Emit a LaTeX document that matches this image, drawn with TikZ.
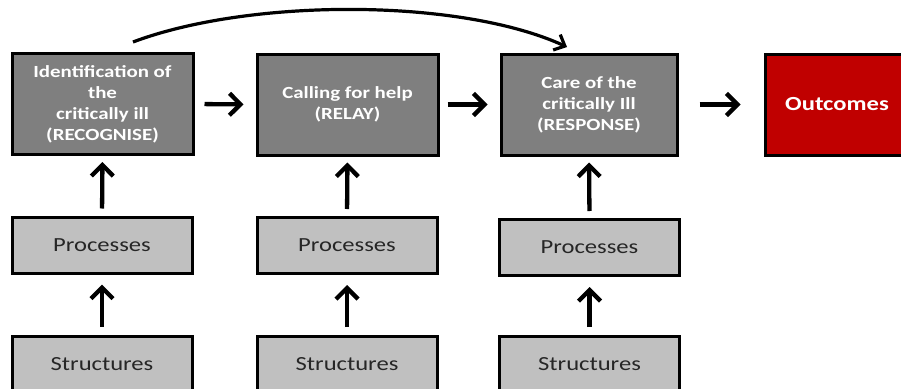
\documentclass[tikz,border=0pt]{standalone}
\usepackage{fontspec}
\setmainfont{Carlito}[FakeStretch=1.23]
\usetikzlibrary{arrows.meta}
\definecolor{darkbox}{HTML}{7F7F7F}
\definecolor{lightbox}{HTML}{C0C0C0}
\definecolor{outred}{HTML}{C00000}
\tikzset{
  topbox/.style={draw=black, line width=3pt, fill=darkbox, minimum height=101pt, inner sep=0pt,
    align=center, text=white, font=\fontsize{17}{21}\selectfont\bfseries},
  redbox/.style={topbox, fill=outred},
  greybox/.style={draw=black, line width=3pt, fill=lightbox, minimum width=180pt, minimum height=56pt,
    inner sep=0pt, text=black!85, font=\fontsize{20}{24}\selectfont},
  arr/.style={line width=4.3pt, -{Straight Barb[length=11pt,width=22pt,line width=4.3pt]}},
  curvearr/.style={line width=3.2pt, -{Straight Barb[length=9pt,width=17pt,line width=3.2pt]}}
}
\begin{document}
\begin{tikzpicture}[x=1pt,y=-1pt]
\useasboundingbox (0,0) rectangle (901,388);
\clip (0,0) rectangle (901,388);
\node[topbox, minimum width=181pt] (r1) at (102.5,104) {Identification of\\the\\critically ill\\(RECOGNISE)};
\node[topbox, minimum width=181pt] (r2) at (347.5,104.5) {Calling for help\\(RELAY)};
\node[topbox, minimum width=176pt] (r3) at (589,104.5) {Care of the\\critically Ill\\(RESPONSE)};
\node[redbox, minimum width=180pt] (out) at (855,104.5) {\fontsize{20}{24}\selectfont\bfseries\hspace*{-36pt}Outcomes};
\node[greybox] (p1) at (102,245) {Processes};
\node[greybox] (p2) at (347,245.5) {Processes};
\node[greybox] (p3) at (589.5,247.5) {Processes};
\node[greybox] (s1) at (102,364) {Structures};
\node[greybox] (s2) at (347,364.5) {Structures};
\node[greybox] (s3) at (589.5,364.5) {Structures};
\coordinate (cs) at (133,42);
\coordinate (ce) at (567,47);
\draw[arr, shorten <=10pt, shorten >=12pt] (r1.east) -- (r2.west);
\draw[arr, shorten <=8pt, shorten >=12pt] (r2.east) -- (r3.west);
\draw[arr, shorten <=21pt, shorten >=23pt] (r3.east) -- (out.west);
\foreach \i in {1,2,3}{
  \draw[arr, shorten <=7pt, shorten >=6pt] (p\i.north) -- (r\i.south);
  \draw[arr, shorten <=8pt, shorten >=10pt] (s\i.north) -- (p\i.south);
}
\draw[curvearr] (cs) .. controls (250,-2) and (460,-2) .. (ce);
\end{tikzpicture}
\end{document}
